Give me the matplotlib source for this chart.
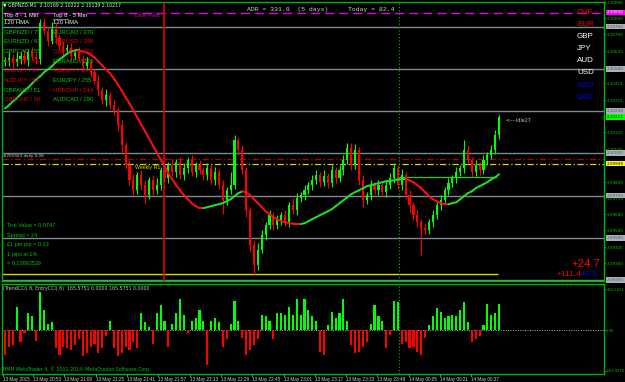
import matplotlib
matplotlib.use('Agg')
import matplotlib.pyplot as plt
import numpy as np
from matplotlib.collections import LineCollection

# ---------------- data (GBPNZD, 2-minute sampling of the M1 chart) ----------------
first_open = 2.10540
closes = [
    2.10550, 2.10567, 2.10538, 2.10561, 2.10579, 2.10550, 2.10597, 2.10573, 2.10561, 2.10774,
    2.10727, 2.10668, 2.10739, 2.10680, 2.10638, 2.10609, 2.10626, 2.10579, 2.10597, 2.10561,
    2.10520, 2.10538, 2.10479, 2.10431, 2.10372, 2.10313, 2.10343, 2.10284, 2.10254, 2.10165,
    2.10047, 2.09929, 2.09840, 2.09781, 2.09870, 2.09811, 2.09752, 2.09840, 2.09781, 2.09811,
    2.09900, 2.09852, 2.09929, 2.09888, 2.09947, 2.09870, 2.09911, 2.09959, 2.09888, 2.09929,
    2.09900, 2.09870, 2.09911, 2.09840, 2.09888, 2.09811, 2.09722, 2.09781, 2.09811, 2.10077,
    2.10018, 2.09900, 2.09663, 2.09456, 2.09338, 2.09427, 2.09515, 2.09574, 2.09634, 2.09574,
    2.09604, 2.09634, 2.09592, 2.09693, 2.09663, 2.09734, 2.09752, 2.09781, 2.09811, 2.09840,
    2.09870, 2.09829, 2.09864, 2.09823, 2.09900, 2.09852, 2.09900, 2.09959, 2.10030, 2.09929,
    2.10018, 2.09840, 2.09722, 2.09752, 2.09811, 2.09781, 2.09811, 2.09770, 2.09811, 2.09852,
    2.09911, 2.09811, 2.09870, 2.09752, 2.09693, 2.09634, 2.09592, 2.09557, 2.09545, 2.09592,
    2.09634, 2.09693, 2.09722, 2.09781, 2.09823, 2.09852, 2.09888, 2.09911, 2.10018, 2.09959,
    2.09888, 2.09929, 2.09900, 2.09959, 2.09988, 2.10018, 2.10106, 2.10217]
# upper / lower wick length in pips
wick_up = [2, 3, 2, 4, 2, 3, 2, 3, 2, 2,
           3, 2, 4, 3, 2, 3, 2, 3, 2, 3,
           2, 3, 2, 2, 3, 2, 4, 2, 3, 2,
           3, 2, 3, 4, 2, 3, 3, 2, 3, 4,
           2, 3, 2, 4, 2, 3, 3, 2, 3, 2,
           3, 2, 3, 2, 3, 2, 3, 2, 8, 3,
           2, 3, 2, 2, 3, 4, 3, 2, 3, 2,
           3, 2, 3, 2, 4, 3, 2, 3, 2, 3,
           3, 2, 4, 2, 3, 2, 3, 3, 3, 3,
           4, 2, 3, 2, 3, 2, 3, 2, 3, 3,
           3, 2, 4, 2, 3, 2, 3, 2, 3, 2,
           3, 2, 3, 2, 3, 2, 3, 2, 6, 3,
           2, 3, 2, 3, 2, 3, 3, 1]
wick_dn = [2, 3, 3, 2, 3, 2, 3, 2, 3, 3,
           2, 3, 2, 3, 2, 3, 2, 3, 2, 2,
           3, 2, 3, 2, 3, 2, 3, 2, 3, 3,
           4, 2, 3, 3, 2, 3, 5, 2, 3, 2,
           3, 2, 3, 2, 3, 2, 3, 3, 2, 3,
           2, 3, 3, 2, 3, 2, 8, 3, 2, 2,
           3, 2, 4, 4, 5, 3, 2, 3, 2, 3,
           2, 3, 2, 3, 2, 3, 2, 3, 2, 3,
           2, 3, 2, 3, 2, 3, 2, 3, 2, 3,
           2, 3, 4, 2, 3, 2, 3, 2, 3, 2,
           3, 2, 3, 2, 4, 3, 3, 16, 3, 2,
           3, 2, 3, 2, 3, 2, 3, 2, 3, 2,
           3, 2, 3, 2, 3, 2, 2, 2]
hma120 = [
    2.10266, 2.10284, 2.10307, 2.10325, 2.10349, 2.10372, 2.10390, 2.10414, 2.10437, 2.10455,
    2.10479, 2.10496, 2.10514, 2.10538, 2.10556, 2.10573, 2.10591, 2.10603, 2.10609, 2.10609,
    2.10603, 2.10597, 2.10585, 2.10567, 2.10544, 2.10520, 2.10496, 2.10473, 2.10443, 2.10408,
    2.10372, 2.10331, 2.10296, 2.10254, 2.10213, 2.10171, 2.10130, 2.10089, 2.10047, 2.10006,
    2.09965, 2.09923, 2.09882, 2.09846, 2.09811, 2.09781, 2.09752, 2.09728, 2.09705, 2.09687,
    2.09675, 2.09675, 2.09681, 2.09687, 2.09693, 2.09699, 2.09705, 2.09716, 2.09728, 2.09746,
    2.09764, 2.09775, 2.09770, 2.09752, 2.09728, 2.09705, 2.09681, 2.09657, 2.09639, 2.09622,
    2.09610, 2.09598, 2.09592, 2.09587, 2.09583, 2.09581, 2.09581, 2.09586, 2.09598, 2.09610,
    2.09622, 2.09634, 2.09645, 2.09657, 2.09669, 2.09687, 2.09705, 2.09722, 2.09740, 2.09758,
    2.09770, 2.09781, 2.09793, 2.09805, 2.09811, 2.09817, 2.09823, 2.09829, 2.09835, 2.09836,
    2.09840, 2.09846, 2.09847, 2.09847, 2.09840, 2.09829, 2.09811, 2.09793, 2.09770, 2.09746,
    2.09728, 2.09716, 2.09705, 2.09699, 2.09698, 2.09705, 2.09710, 2.09728, 2.09746, 2.09764,
    2.09775, 2.09793, 2.09805, 2.09817, 2.09829, 2.09846, 2.09858, 2.09876]
cci_hist = [
    -160, -110, -100, 150, -80, -20, 110, 90, -70, 250,
    130, 40, 50, -120, -160, -110, -120, -130, -100, -60,
    -170, -150, -110, -90, -150, -120, -40, 60, -120, -170,
    -150, -110, -130, -80, -120, 110, 50, 20, -90, 110,
    160, 60, -110, 40, 110, 200, 100, -20, 60, 80,
    130, 60, -230, 60, 80, 50, -110, -60, 40, 190,
    60, -50, -160, -130, -100, -60, 100, 90, 60, -60,
    110, 110, 100, 150, 100, 200, 100, 200, 130, 90,
    60, -140, -160, 30, 120, 80, 110, 200, 60, -100,
    -150, -140, -110, -80, 40, 160, 90, 60, -120, -30,
    190, 180, -90, -80, -120, -110, -140, -160, -50, 30,
    90, 140, 120, 80, 90, 100, 90, 130, 180, 50,
    -80, -60, -40, 30, 170, 100, 110, 170]

level_lines = [2.10750, 2.10500, 2.10250, 2.10000, 2.09750, 2.09500, 2.09250]
daily_pivot = 2.10833
daily_level = 2.09965
weekly_r1 = 2.09935
yellow_level = 2.09285
yellow_level_end_bar = 126.7
green_box_level = 2.09858
green_box_bars = (101.0, 126.5)
session_line_bar = 40.9
now_line_bar = 101.3
last_price = 2.10217
pivot_label = 2.10834
weekly_r1_label = 2.09939

price_ticks = [2.10896, 2.10800, 2.10705, 2.10605, 2.10510, 2.10415, 2.10315,
               2.10125, 2.10025, 2.09830, 2.09735, 2.09640, 2.09545, 2.09445, 2.09350]
cci_ticks = [264.5251, 0.0, -263.9175]
cci_tick_labels = ['264.5251', '0.00', '-263.9175']

time_labels = ['13 May 2015', '13 May 20:53', '13 May 21:09', '13 May 21:25', '13 May 21:41',
               '13 May 21:57', '13 May 22:13', '13 May 22:29', '13 May 22:45', '13 May 23:01',
               '13 May 23:17', '13 May 23:33', '13 May 23:49', '14 May 00:05', '14 May 00:21',
               '14 May 00:37']
time_label_bars = [-0.4, 7.2, 15.25, 23.3, 31.35, 39.4, 47.45, 55.5, 63.55, 71.6, 79.65,
                   87.7, 95.75, 103.8, 111.85, 119.9]

top1_pairs = ['GBPNZD / 73', 'EURNZD / 61', 'GBPCAD / 55', 'AUDJPY / 55', 'CADJPY / 54',
              'NZDJPY / 53', 'GBPAUD / 51', 'GBPCHF / 50']
top1_up = [True, True, True, False, False, False, True, False]
top5_pairs = ['EURCAD / 370', 'EURUSD / 348', 'GBPUSD / 282', 'EURAUD / 270', 'GBPJPY / 264',
              'EURJPY / 255', 'USDCHF / 244', 'AUDCAD / 190']
top5_up = [True, False, False, True, False, True, False, True]
currencies = ['CHF', 'EUR', 'GBP', 'JPY', 'AUD', 'USD', 'NZD', 'CAD']
currency_colors = ['#FF0000', '#FF0000', '#FFFFFF', '#FFFFFF', '#FFFFFF', '#FFFFFF', '#0000FF', '#0000FF']

# ---------------- styling ----------------
BULL = '#00FF00'
BEAR = '#FF0000'
FRAME = '#00B400'
GRID = '#7D8894'
W, H = 625, 382

def fx(x):
    return x / W

def fy(y):
    return 1 - y / H

fig = plt.figure(figsize=(W / 100, H / 100), dpi=100, facecolor='black')
ax = fig.add_axes([fx(2), fy(281), 602 / W, 279 / H], facecolor='black')
ax2 = fig.add_axes([fx(2), fy(374), 602 / W, 90 / H], facecolor='black')

bar_px = 3.89
xmin = -(5 - 2) / bar_px
xmax = xmin + 602 / bar_px
for a in (ax, ax2):
    a.set_xlim(xmin, xmax)
    for s in a.spines.values():
        s.set_color(FRAME)
        s.set_linewidth(1.0)
    a.set_xticks([])
ax.set_ylim(2.09244, 2.10892)
ax2.set_ylim(-286, 299)

closes = np.array(closes)
n = len(closes)
idx = np.arange(n)
opens = np.r_[first_open, closes[:-1]]
highs = np.maximum(opens, closes) + np.array(wick_up) * 0.0001
lows = np.minimum(opens, closes) - np.array(wick_dn) * 0.0001
ccolors = np.where(closes >= opens, BULL, BEAR)

# horizontal objects
for lv in level_lines:
    ax.axhline(lv, color=GRID, lw=1.0, zorder=1)
ax.axhline(daily_pivot, color='#E000E0', lw=1.0, ls=(0, (6.5, 3.6)), zorder=1)
ax.axhline(daily_level, color='#B00000', lw=0.9, ls=(0, (5, 2, 1, 2)), zorder=1)
ax.axhline(weekly_r1, color='#D8D800', lw=0.9, ls=(0, (5, 2, 1, 2)), zorder=1)
ax.hlines(yellow_level, xmin, yellow_level_end_bar, color='#D8D800', lw=1.0, zorder=1)
ax.hlines(green_box_level, green_box_bars[0], green_box_bars[1], color='#20D020', lw=0.9, zorder=1)
ax.axvline(session_line_bar, color='#E00000', lw=1.2, zorder=1)
for a in (ax, ax2):
    a.axvline(now_line_bar, color='#00C000', lw=0.8, ls=(0, (1, 2)), zorder=1)

# candles
ax.vlines(idx, lows, highs, colors=ccolors, lw=0.8, zorder=3)
ax.bar(idx, np.maximum(np.abs(closes - opens), 0.00002), bottom=np.minimum(opens, closes),
       width=0.55, color=ccolors, linewidth=0, zorder=3)

# HMA coloured by slope
hma = np.array(hma120)
pts = np.column_stack([idx, hma])
segs = np.stack([pts[:-1], pts[1:]], axis=1)
seg_cols = []
cur = '#22E022'
for d in np.diff(hma):
    if d > 0:
        cur = '#22E022'
    elif d < 0:
        cur = '#FF1010'
    seg_cols.append(cur)
ax.add_collection(LineCollection(segs, colors=seg_cols, linewidths=1.4, zorder=4,
                                 capstyle='round'))

# right price axis
ax.yaxis.tick_right()
ax.set_yticks(price_ticks)
ax.set_yticklabels([f'{v:.5f}' for v in price_ticks])
ax.tick_params(axis='y', colors=FRAME, labelcolor='#00C800', labelsize=3.0, length=1.5,
               width=0.6, pad=0.6)

ytr = ax.get_yaxis_transform()
def price_box(p, txt, bg, fg):
    ax.text(1.005, p, txt, transform=ytr, fontsize=3.0, color=fg, va='center', ha='left',
            clip_on=False, zorder=10,
            bbox=dict(boxstyle='square,pad=0.2', fc=bg, ec='none'))

for lv in level_lines:
    price_box(lv, f'{lv:.5f}', '#A9B0B8', '#505860')
price_box(pivot_label, f'{pivot_label:.5f}', '#FF00FF', '#FFFFFF')
price_box(last_price, f'{last_price:.5f}', '#00FF00', '#000000')
price_box(weekly_r1_label, f'{weekly_r1_label:.5f}', '#FFFF00', '#000000')

# lower panel histogram
vals = np.array(cci_hist)
ax2.bar(idx, vals, width=0.55, color=np.where(vals >= 0, BULL, BEAR), linewidth=0, zorder=3)
ax2.axhline(0, color='#B0B0B0', lw=0.7, ls=(0, (1, 1.5)), zorder=2)
ax2.yaxis.tick_right()
ax2.set_yticks(cci_ticks)
ax2.set_yticklabels(cci_tick_labels)
ax2.tick_params(axis='y', colors=FRAME, labelcolor='#00C800', labelsize=2.7, length=1.2,
                width=0.6, pad=0.4)

# time axis labels
xtr = ax2.get_xaxis_transform()
for pos, lab in zip(time_label_bars, time_labels):
    ax2.text(pos, -0.03, lab, transform=xtr, fontsize=3.3, color='#D0D0D0',
             va='top', ha='left', clip_on=False, family='Liberation Sans')
    ax2.plot([pos, pos], [0, -0.025], transform=xtr, color='#D0D0D0', lw=0.5, clip_on=False)

# ---------------- texts ----------------
SANS = 'Liberation Sans'
fig.text(fx(3), fy(5), '\u25bc GBPNZD,M1  2.10169 2.10222 2.10139 2.10217', fontsize=3.3,
         color='#E8E8E8', va='center', family='DejaVu Sans')
fig.text(fx(247), fy(10), 'ADR = 331.9  (5 days)', fontsize=4.6, color='#D0D0D0', va='center',
         family='Liberation Mono')
fig.text(fx(348), fy(10), 'Today = 82.4', fontsize=4.6, color='#D0D0D0', va='center',
         family='Liberation Mono')
fig.text(fx(135), fy(16), 'Daily Pivot', fontsize=3.7, color='#E000E0', va='center', family=SANS)

for x0, t in ((4, 'Top 8 - 1 Min'), (53, 'Top 8 - 5 Min')):
    fig.text(fx(x0), fy(15), t, fontsize=4.3, color='#E8E8E8', va='center', family=SANS)
    fig.text(fx(x0), fy(22.5), '120 HMA', fontsize=4.3, color='#E8E8E8', va='center', family=SANS)
    fig.add_artist(plt.Line2D([fx(x0), fx(x0 + 15)], [fy(18.5), fy(18.5)], color='#E8E8E8', lw=0.4))
for k, (t, up) in enumerate(zip(top1_pairs, top1_up)):
    fig.text(fx(4), fy(32 + 9.7 * k), t, fontsize=4.3, color='#00D000' if up else '#E00000',
             va='center', family=SANS)
for k, (t, up) in enumerate(zip(top5_pairs, top5_up)):
    fig.text(fx(53), fy(32 + 9.7 * k), t, fontsize=4.3, color='#00D000' if up else '#E00000',
             va='center', family=SANS)

for k, (c, col) in enumerate(zip(currencies, currency_colors)):
    fig.text(fx(577), fy(12 + 12.2 * k), c, fontsize=5.8, color=col, va='center', family=SANS)

fig.text(fx(3), fy(156), '#765563 daily 0.08', fontsize=3.0, color='#C8D0C8', va='center',
         family='DejaVu Sans')
fig.text(fx(135), fy(168), 'Weekly R1', fontsize=3.8, color='#D8D800', va='center', family=SANS)
fig.text(fx(505), fy(121), '<----Idle27', fontsize=3.4, color='#C8C8C8', va='center',
         family='DejaVu Sans')

info = ['Tick Value = 0.0747', 'Spread = 24', '\u00a31 per pip = 0.13', '1 pips at 1%',
        '= 0.13862539']
for k, t in enumerate(info):
    fig.text(fx(7), fy(225.5 + 9.6 * k), t, fontsize=4.0, color='#00C000', va='center', family=SANS)

fig.text(fx(600), fy(264), '+24.7', fontsize=8.2, color='#FF0000', va='center', ha='right',
         family=SANS)
fig.text(fx(581), fy(274.5), '+111.4', fontsize=6.0, color='#FF0000', va='center', ha='right',
         family=SANS)
fig.text(fx(581), fy(274.5), '+0.1', fontsize=6.0, color='#0000FF', va='center', ha='left',
         family=SANS)

fig.text(fx(3), fy(288.5), '(TrendCCI) 8, EntryCCI) 8)  165.5751 0.0000 165.5751 0.0000',
         fontsize=3.4, color='#B8D0B8', va='center', family='DejaVu Sans')
fig.text(fx(3), fy(369), 'BMM MetaTrader 4, \u00a9 2001-2014, MetaQuotes Software Corp.',
         fontsize=3.4, color='#00C000', va='center', family='DejaVu Sans')

fig.savefig('out.png', dpi=100, facecolor='black')
